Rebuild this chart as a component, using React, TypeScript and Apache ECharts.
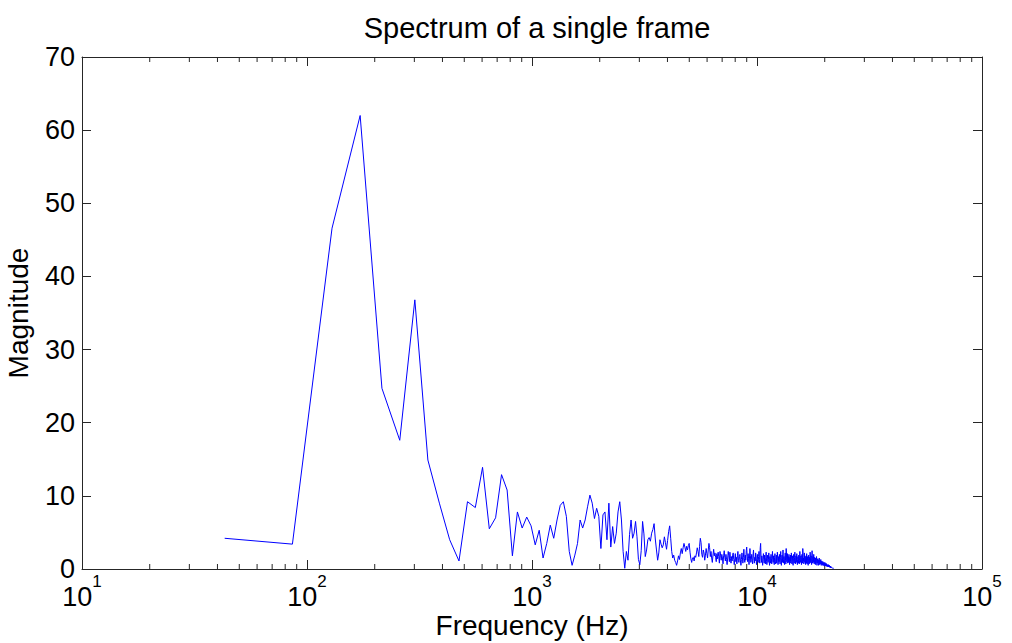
import React, { useEffect, useRef } from "react";
import * as echarts from "echarts";

// FFT bin width (44.1 kHz sample rate, 1024-point frame)
const sampleRate = 44100;
const frameLength = 1024;

// Magnitude of bins 1..512
const magnitude: number[] = [
  4.2, 3.4, 46.6, 62.0, 24.7, 17.6, 36.8, 14.9, 9.0, 4.0,
  1.1, 9.2, 8.4, 13.9, 5.5, 7.0, 12.9, 10.8, 1.8, 7.8,
  5.6, 7.1, 5.9, 3.3, 5.3, 1.5, 3.5, 6.0, 4.2, 6.7,
  8.7, 9.2, 7.2, 2.4, 0.5, 1.9, 3.5, 6.7, 5.6, 6.7,
  8.5, 10.1, 9.0, 6.9, 8.3, 7.2, 2.8, 7.4, 7.8, 4.0,
  9.0, 3.0, 5.8, 3.5, 4.9, 7.8, 9.2, 6.7, 2.4, 0.1,
  2.4, 1.2, 4.7, 6.7, 4.2, 4.9, 6.5, 4.4, 1.3, 0.6,
  2.5, 6.5, 4.8, 1.7, 2.6, 4.0, 4.3, 3.8, 4.9, 5.4,
  6.2, 4.1, 2.6, 1.2, 2.2, 4.0, 3.4, 2.9, 3.3, 4.4,
  3.6, 2.7, 3.9, 5.1, 5.9, 4.2, 2.4, 1.5, 1.9, 1.2,
  0.9, 0.5, 1.1, 1.8, 1.3, 2.2, 2.8, 2.1, 2.9, 3.5,
  3.0, 2.4, 3.1, 2.6, 3.2, 3.5, 2.3, 1.4, 0.9, 1.5,
  1.6, 1.1, 1.8, 1.6, 2.2, 2.9, 2.4, 1.7, 3.1, 4.2,
  3.6, 2.0, 1.6, 2.6, 2.2, 1.2, 1.9, 2.8, 2.1, 1.5,
  2.6, 3.5, 2.9, 1.7, 2.4, 1.5, 0.9, 1.9, 2.7, 1.8,
  2.2, 1.6, 1.0, 2.1, 1.4, 2.3, 1.7, 0.8, 2.4, 1.9,
  1.2, 2.0, 1.5, 0.7, 1.8, 2.5, 1.6, 1.1, 2.0, 1.3,
  0.6, 1.5, 2.4, 1.8, 1.0, 2.3, 1.4, 0.8, 1.7, 1.1,
  1.9, 2.2, 1.3, 0.6, 1.4, 2.1, 1.0, 1.6, 0.7, 1.8,
  2.4, 1.2, 0.9, 1.7, 2.0, 1.1, 0.5, 1.3, 2.2, 1.5,
  0.8, 1.6, 2.7, 1.4, 0.9, 1.9, 1.2, 2.5, 3.0, 1.7,
  1.0, 2.1, 1.4, 0.6, 1.5, 2.8, 1.8, 0.9, 1.3, 2.0,
  1.2, 0.7, 1.9, 2.6, 1.4, 0.8, 1.6, 1.1, 2.2, 1.5,
  0.6, 1.4, 2.0, 1.2, 0.9, 1.7, 2.4, 1.3, 0.8, 2.9,
  3.5, 1.6, 0.9, 1.8, 1.1, 0.5, 1.4, 2.1, 1.3, 0.8,
  1.9, 1.2, 0.7, 1.6, 2.3, 1.0, 0.6, 1.4, 1.9, 0.9,
  1.3, 2.2, 1.1, 0.5, 1.7, 1.2, 0.8, 2.0, 1.4, 0.7,
  1.5, 2.4, 1.3, 0.9, 1.8, 1.1, 0.6, 1.6, 2.1, 1.0,
  0.7, 1.4, 1.9, 0.8, 1.2, 2.3, 1.5, 0.6, 1.1, 1.7,
  1.0, 2.0, 1.3, 0.7, 1.6, 2.4, 1.2, 0.5, 1.4, 1.9,
  0.9, 1.5, 2.6, 1.3, 0.8, 1.7, 1.1, 0.6, 1.8, 2.2,
  1.2, 0.7, 2.8, 1.9, 1.0, 1.5, 2.1, 0.8, 1.3, 1.7,
  0.9, 2.0, 1.4, 0.6, 1.6, 1.1, 1.9, 0.8, 1.3, 2.2,
  1.5, 0.7, 1.2, 1.8, 1.0, 0.5, 1.4, 2.0, 1.1, 0.8,
  1.6, 2.3, 1.3, 0.7, 1.2, 1.8, 0.9, 1.5, 2.1, 1.0,
  0.6, 1.3, 1.7, 1.1, 0.8, 1.9, 1.4, 0.7, 1.2, 2.4,
  1.5, 0.9, 1.3, 1.8, 1.0, 0.6, 1.6, 2.0, 1.2, 0.8,
  2.8, 1.9, 1.1, 1.5, 0.7, 1.3, 2.2, 1.4, 0.9, 1.6,
  1.1, 0.6, 1.8, 1.3, 0.8, 2.1, 1.5, 0.7, 1.2, 1.7,
  1.0, 0.5, 1.4, 1.9, 1.1, 0.7, 1.6, 1.2, 0.8, 2.3,
  1.6, 0.9, 1.3, 1.8, 1.0, 0.6, 1.4, 2.5, 1.3, 0.8,
  1.2, 1.7, 0.9, 1.4, 2.0, 1.1, 0.7, 1.3, 1.6, 0.9,
  1.2, 0.6, 1.5, 1.1, 0.8, 1.3, 1.7, 0.9, 0.5, 1.1,
  1.4, 0.8, 1.0, 1.3, 0.7, 0.5, 1.2, 0.9, 1.5, 0.8,
  0.6, 1.0, 1.2, 0.7, 0.9, 1.3, 0.8, 0.5, 1.0, 0.7,
  1.1, 0.8, 0.5, 0.9, 0.7, 1.0, 0.6, 0.8, 0.5, 0.9,
  0.7, 0.4, 0.8, 0.6, 0.9, 0.5, 0.7, 0.4, 0.6, 0.8,
  0.5, 0.7, 0.4, 0.6, 0.5, 0.3, 0.6, 0.4, 0.5, 0.3,
  0.4, 0.6, 0.3, 0.5, 0.4, 0.3, 0.5, 0.3, 0.4, 0.2,
  0.3, 0.4, 0.2, 0.3, 0.2, 0.3, 0.2, 0.25, 0.15, 0.2,
  0.15, 0.2, 0.12, 0.15, 0.1, 0.12, 0.1, 0.08, 0.1, 0.08,
  0.06, 0.05,
];

const xMin = 10;
const xMax = 100000;
const yMin = 0;
const yMax = 70;
const yStep = 10;
const minorTickValues: number[] = [
  20, 30, 40, 50, 60, 70, 80, 90,
  200, 300, 400, 500, 600, 700, 800, 900,
  2000, 3000, 4000, 5000, 6000, 7000, 8000, 9000,
  20000, 30000, 40000, 50000, 60000, 70000, 80000, 90000,
];

const titleText = "Spectrum of a single frame";
const xName = "Frequency (Hz)";
const yName = "Magnitude";

const FONT = "'Liberation Sans', Arial, Helvetica, sans-serif";
const AXIS_COLOR = "#262626";

export default function App() {
  const ref = useRef<HTMLDivElement>(null);

  useEffect(() => {
    if (!ref.current) return;
    const chart = echarts.init(ref.current, null, { renderer: "svg" });
    const binHz = sampleRate / frameLength;
    const seriesData = magnitude.map((m, i) => [(i + 1) * binHz, m]);

    const logLabel = (v: number) => {
      const e = Math.round(Math.log10(v));
      return `{b|10}{s|${e}}`;
    };

    const axisCommon = {
      axisLine: { show: true, onZero: false, lineStyle: { color: AXIS_COLOR, width: 1 } },
      axisTick: { show: true, inside: true, length: 9, lineStyle: { color: AXIS_COLOR, width: 1 } },
      splitLine: { show: false },
    };

    chart.setOption({
      animation: false,
      backgroundColor: "#ffffff",
      title: {
        text: titleText,
        left: 532,
        top: 8,
        textAlign: "center",
        textStyle: { fontFamily: FONT, fontSize: 29, fontWeight: "normal", color: "#000" },
      },
      grid: {
        left: 82,
        right: 30,
        top: 57,
        bottom: 74,
        containLabel: false,
        outerBoundsMode: "none",
      },
      xAxis: [
        {
          type: "log",
          logBase: 10,
          min: xMin,
          max: xMax,
          position: "bottom",
          ...axisCommon,
          name: xName,
          nameLocation: "middle",
          nameGap: 41,
          nameMoveOverlap: false,
          nameTextStyle: { fontFamily: FONT, fontSize: 28, color: "#000", lineHeight: 30 },
          axisLabel: {
            show: true,
            margin: 4,
            formatter: logLabel,
            rich: {
              b: { fontFamily: FONT, fontSize: 27, color: "#000", lineHeight: 48 },
              s: { fontFamily: FONT, fontSize: 17, color: "#000", verticalAlign: "top", lineHeight: 24 },
            },
          },
        },
        {
          type: "log",
          logBase: 10,
          min: xMin,
          max: xMax,
          position: "top",
          ...axisCommon,
          axisLabel: { show: false },
        },
      ],
      yAxis: [
        {
          type: "value",
          min: yMin,
          max: yMax,
          interval: yStep,
          position: "left",
          ...axisCommon,
          name: yName,
          nameLocation: "middle",
          nameGap: 50,
          nameRotate: 90,
          nameMoveOverlap: false,
          nameTextStyle: { fontFamily: FONT, fontSize: 28, color: "#000" },
          axisLabel: { show: true, margin: 7, fontFamily: FONT, fontSize: 27, color: "#000" },
        },
        {
          type: "value",
          min: yMin,
          max: yMax,
          interval: yStep,
          position: "right",
          ...axisCommon,
          axisLabel: { show: false },
        },
      ],
      series: [
        {
          type: "line",
          data: seriesData,
          xAxisIndex: 0,
          yAxisIndex: 0,
          showSymbol: false,
          symbol: "none",
          lineStyle: { color: "#0000ff", width: 1 },
          silent: true,
        },
        {
          type: "custom",
          xAxisIndex: 0,
          yAxisIndex: 0,
          silent: true,
          clip: false,
          data: minorTickValues.map((v) => [v, yMin]),
          renderItem: (params: any, api: any) => {
            const v = api.value(0);
            const pb = api.coord([v, yMin]);
            const pt = api.coord([v, yMax]);
            const style = { stroke: AXIS_COLOR, lineWidth: 1 };
            return {
              type: "group",
              children: [
                { type: "line", shape: { x1: pb[0], y1: pb[1], x2: pb[0], y2: pb[1] - 5 }, style },
                { type: "line", shape: { x1: pt[0], y1: pt[1], x2: pt[0], y2: pt[1] + 5 }, style },
              ],
            };
          },
        },
      ],
    });

    return () => chart.dispose();
  }, []);

  return (
    <div
      ref={ref}
      style={{ position: "absolute", left: 0, top: 0, width: 1012, height: 643, background: "#fff" }}
    />
  );
}
